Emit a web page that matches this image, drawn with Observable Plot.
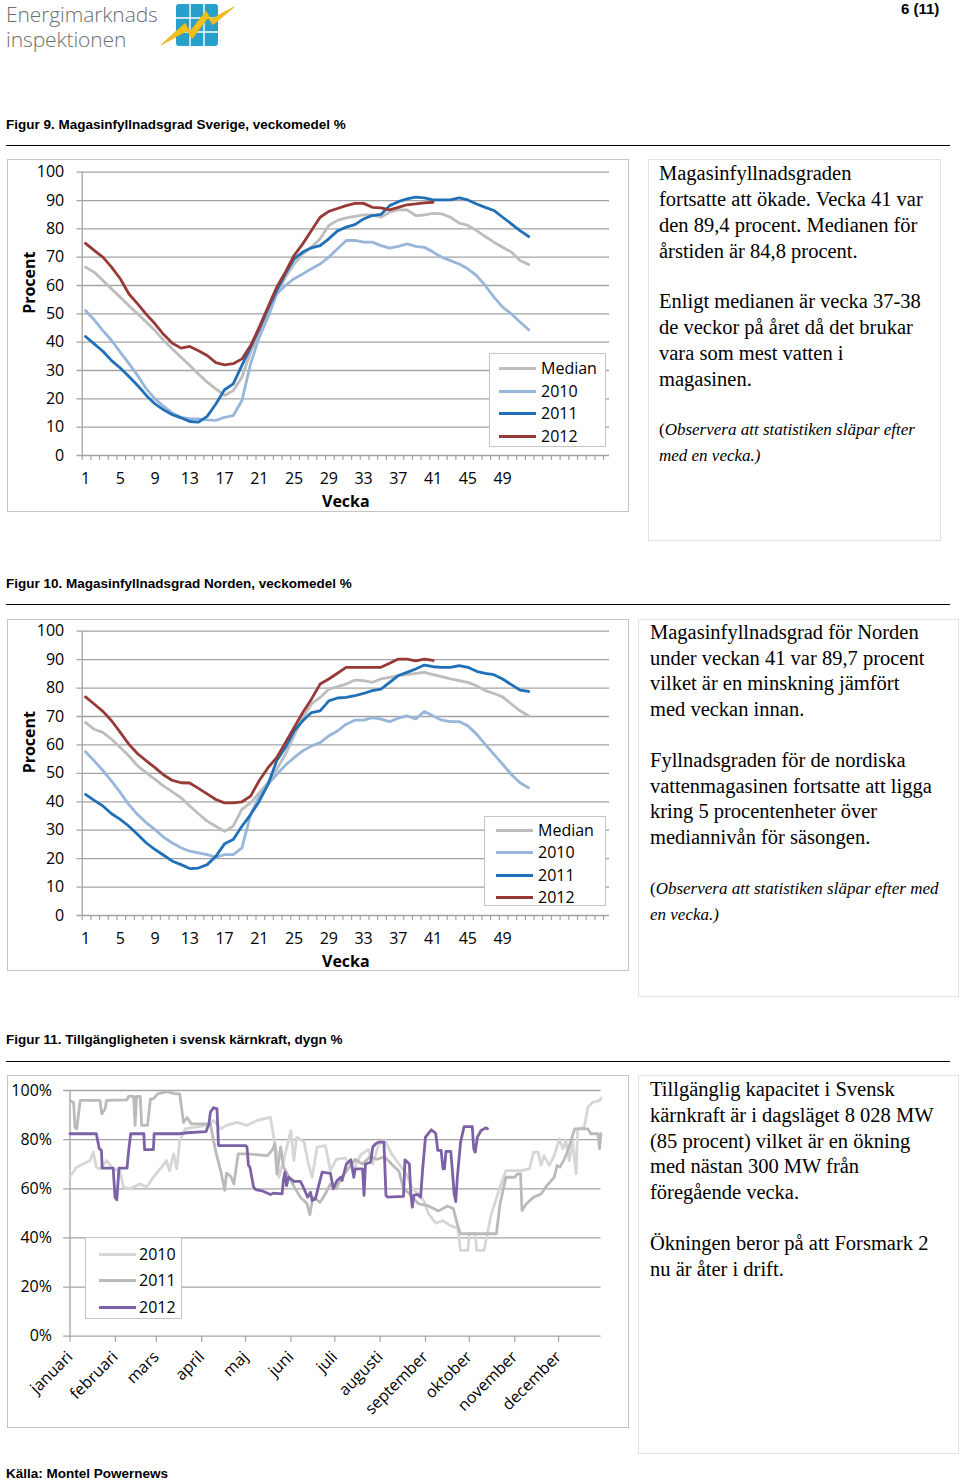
<!DOCTYPE html>
<html><head><meta charset="utf-8">
<script src="https://cdn.jsdelivr.net/npm/d3@7"></script>
<script src="https://cdn.jsdelivr.net/npm/@observablehq/plot@0.6"></script>
<style>
body{margin:0;background:#fff;}
#page{position:relative;width:960px;height:1481px;overflow:hidden;font-family:"Liberation Sans",Arial,sans-serif;color:#000;}
.abs{position:absolute;}
.logo{position:absolute;left:6px;font-family:'Open Sans',sans-serif;font-weight:300;font-size:21px;line-height:21px;height:21px;color:#6e6e6e;letter-spacing:-0.1px;white-space:nowrap;}
.figtitle{position:absolute;left:6px;font-weight:bold;font-size:13.5px;line-height:16px;white-space:nowrap;}
.hr{position:absolute;left:6px;width:944px;height:0;border-top:1.6px solid #000;}
.box{position:absolute;border:1.6px solid #c4c4c4;box-sizing:border-box;}
.tbox{position:absolute;border:1.2px solid #e2e2e2;box-sizing:border-box;}
.txt{position:absolute;font-family:"Liberation Serif","Times New Roman",serif;font-size:20.5px;white-space:nowrap;}
.it{font-style:italic;font-size:17px;}
.legend{position:absolute;background:#fff;border:1.2px solid #c4c4c4;box-sizing:border-box;font-family:"Open Sans",sans-serif;font-size:16px;}
.lrow{position:absolute;height:22px;line-height:22px;white-space:nowrap;}
.lline{position:absolute;height:3px;top:10px;width:37px;}
.ltext{position:absolute;top:0;}
.chart{position:absolute;}
</style></head>
<body><div id="page">

<div class="logo" style="top:4px;">Energimarknads</div>
<div class="logo" style="top:29px;">inspektionen</div>
<svg class="abs" style="left:155px;top:0px" width="85" height="50" viewBox="155 0 85 50">
  <rect x="176" y="4" width="42" height="42" rx="3" fill="#27a0cc"/>
  <line x1="190" y1="4" x2="190" y2="46" stroke="#fff" stroke-width="1.4"/>
  <line x1="204" y1="4" x2="204" y2="46" stroke="#fff" stroke-width="1.4"/>
  <line x1="176" y1="18" x2="218" y2="18" stroke="#fff" stroke-width="1.4"/>
  <line x1="176" y1="32" x2="218" y2="32" stroke="#fff" stroke-width="1.4"/>
  <polygon points="161,45 185,23 190,31 206,11 211,19 234,7 213,25 208,18 192,39 187,31" fill="#f2c01c" stroke="#d9a400" stroke-width="0.6"/>
</svg>
<div class="abs" style="left:901px;top:0px;font-weight:bold;font-size:15px;line-height:17px;">6 (11)</div>

<div class="figtitle" style="top:117px;">Figur 9. Magasinfyllnadsgrad Sverige, veckomedel %</div>
<div class="hr" style="top:145px;"></div>
<div class="box" style="left:7px;top:159px;width:622px;height:353px;"></div>
<div id="fig9" class="chart" style="left:7px;top:159px;"></div>
<div class="tbox" style="left:648px;top:159px;width:293px;height:382px;"></div>
<div class="txt" style="left:659px;top:160px;line-height:26px;">Magasinfyllnadsgraden<br>fortsatte att ökade. Vecka 41 var<br>den 89,4 procent. Medianen för<br>årstiden är 84,8 procent.</div>
<div class="txt" style="left:659px;top:288px;line-height:26px;">Enligt medianen är vecka 37-38<br>de veckor på året då det brukar<br>vara som mest vatten i<br>magasinen.</div>
<div class="txt" style="left:659px;top:417px;line-height:26px;font-size:17px;">(<span class="it">Observera att statistiken släpar efter<br>med en vecka.)</span></div>

<div class="figtitle" style="top:576px;">Figur 10. Magasinfyllnadsgrad Norden, veckomedel %</div>
<div class="hr" style="top:604px;"></div>
<div class="box" style="left:7px;top:619px;width:622px;height:352px;"></div>
<div id="fig10" class="chart" style="left:7px;top:619px;"></div>
<div class="tbox" style="left:638px;top:619px;width:321px;height:378px;"></div>
<div class="txt" style="left:650px;top:620px;line-height:25.7px;">Magasinfyllnadsgrad för Norden<br>under veckan 41 var 89,7 procent<br>vilket är en minskning jämfört<br>med veckan innan.</div>
<div class="txt" style="left:650px;top:748px;line-height:25.7px;">Fyllnadsgraden för de nordiska<br>vattenmagasinen fortsatte att ligga<br>kring 5 procentenheter över<br>mediannivån för säsongen.</div>
<div class="txt" style="left:650px;top:876px;line-height:25.5px;font-size:17px;">(<span class="it">Observera att statistiken släpar efter med<br>en vecka.)</span></div>

<div class="figtitle" style="top:1032px;">Figur 11. Tillgängligheten i svensk kärnkraft, dygn %</div>
<div class="hr" style="top:1061px;"></div>
<div class="box" style="left:7px;top:1075px;width:622px;height:353px;"></div>
<div id="fig11" class="chart" style="left:7px;top:1075px;"></div>
<div class="tbox" style="left:638px;top:1075px;width:321px;height:379px;"></div>
<div class="txt" style="left:650px;top:1077px;line-height:25.75px;">Tillgänglig kapacitet i Svensk<br>kärnkraft är i dagsläget 8 028 MW<br>(85 procent) vilket är en ökning<br>med nästan 300 MW från<br>föregående vecka.</div>
<div class="txt" style="left:650px;top:1230px;line-height:26px;">Ökningen beror på att Forsmark 2<br>nu är åter i drift.</div>

<div class="figtitle" style="top:1466px;">Källa: Montel Powernews</div>

</div>
<script>
// ---------- Data: Figur 9 (Sverige), veckor 1-52 ----------
const weekSeries = ["Median", "2010", "2011", "2012"];
const weekColors = ["#bdbdbd", "#98b6da", "#1f70b8", "#973a37"];
const yTicks = [0, 10, 20, 30, 40, 50, 60, 70, 80, 90, 100];
const weekLabels = [1, 5, 9, 13, 17, 21, 25, 29, 33, 37, 41, 45, 49];

const sverigeMedian = [66.5,64.7,61.8,58.8,55.9,52.9,50,47,44.1,40.6,37.6,34.7,31.8,28.8,25.9,23.5,21.2,22.9,27.6,36.5,42.9,50,57,62.9,67.6,71.2,73.5,76.5,81.2,83,83.9,84.4,84.9,84.9,84.1,85.9,86.7,86.7,84.7,84.9,85.5,85.3,84.1,82,81.2,79.4,77.3,75.3,73.5,71.8,68.8,67.4];
const sverige2010 = [51.2,47.9,44.1,40.6,36.5,32.4,28.2,23.5,20,17.3,15,13.5,12.9,12.9,12.6,12.4,13.5,14.1,19.4,32.4,41.8,48.8,57,60,62.4,64.1,65.9,67.6,70,73,75.9,75.9,75.3,75.3,74.1,73.2,73.8,74.7,73.8,73.5,71.8,70,68.8,67.6,65.9,63.5,60,55.9,52.4,50,47.1,44.4];
const sverige2011 = [42,39.4,36.8,33.5,30.9,27.9,24.7,21.2,18.2,16.1,14.4,13.3,12,11.8,13.8,18.2,23.2,25.3,31.8,38.2,44.7,51.8,58.2,64.1,69.4,71.8,73.3,74.1,76.5,79.3,80.6,81.5,83.5,84.7,85.1,88.2,89.6,90.6,91.2,90.9,90.2,90.2,90.2,90.9,90.2,88.8,87.6,86.5,84.1,81.8,79.4,77.3];
const sverige2012 = [74.9,72.4,70,66.5,62.4,57,53.5,49.8,46.5,42.7,39.6,37.9,38.5,37,35.3,32.8,32,32.4,34.1,38.8,45.3,52.4,59.4,64.7,70.6,74.7,79.4,84.1,86.2,87.2,88.2,89,89,87.6,87.4,86.7,87.6,88.5,88.8,89.2,89.4];

// ---------- Data: Figur 10 (Norden) ----------
const nordenMedian = [67.9,65.5,64.4,62,59.1,56.1,52.6,50.2,47.9,45.5,43.5,41.4,38.5,35.8,33.2,31.4,29.6,31.4,37.3,39.6,43.2,46.7,51.4,56.7,63.2,69.6,74.4,76.7,79.6,80.5,81.4,82.8,82.6,82,83.2,83.8,84.4,84.7,85.2,85.5,84.7,84,83.2,82.6,82,80.8,79.1,78.1,76.9,74.4,72,70.2];
const norden2010 = [57.6,54.4,51,47.3,43.2,39,35.5,32.6,30.2,27.5,25.5,23.8,22.6,22,21.4,20.5,21.4,21.4,23.8,35.5,42,46.1,49.6,52.9,55.5,57.9,59.6,60.8,63.2,64.9,67.3,68.7,68.7,69.6,69.1,68.2,69.4,70.2,69.1,71.8,70.2,68.7,68.2,68.2,66.7,63.8,60.2,56.7,53.2,49.6,46.7,44.9];
const norden2011 = [42.6,40.5,38.5,35.8,33.8,31.4,28.5,25.5,23.2,21.2,19.1,17.9,16.5,16.7,17.9,20.8,25.2,26.7,31.4,35.5,40.2,46.1,54.4,59.1,64.9,68.5,71.4,72,75.5,76.5,76.7,77.3,78.1,79.1,79.6,82,84.4,85.5,86.7,88.1,87.5,87.3,87.3,87.9,87.3,85.9,85.2,84.7,83.2,81.2,79.3,78.8];
const norden2012 = [76.9,74.4,71.8,68.5,64.4,60.2,56.9,54.4,52,49.4,47.5,46.7,46.6,44.7,42.8,40.8,39.6,39.6,40,42,47.5,52,55.5,60.8,66.1,71.4,76.1,81.4,83.2,85.2,87.3,87.3,87.3,87.3,87.3,88.7,90.2,90.2,89.6,90.2,89.7];

// ---------- Data: Figur 11 (kärnkraft), [dag i året, procent] ----------
const monthNames = ["januari","februari","mars","april","maj","juni","juli","augusti","september","oktober","november","december"];
const pctTicks = [0, 20, 40, 60, 80, 100];
const availSeries = ["2010", "2011", "2012"];
const availColors = ["#d6d6d6", "#bababa", "#7d61a6"];
const avail2010 = [[0,65],[4.6,68.8],[9,70.1],[13.7,71.5],[16,74.9],[18,68.8],[20.5,68.1],[25,71.5],[29.7,68.1],[34,67.4],[36.5,60.7],[41,60],[48,62],[52.5,60.7],[57,64.7],[61.6,68.1],[66,71.5],[68,67.4],[70.8,74.2],[73,68.1],[75,79.6],[78.8,84.4],[84.5,85],[93.6,85.8],[98,87.8],[103,84.4],[107,85.8],[114,87],[121,85.8],[128,87.8],[137,89.1],[139,82],[141,75.6],[142.7,64.7],[146,71.5],[151,83.7],[153,71.5],[155,81],[160,79],[163,70.1],[165.5,64.7],[169,77],[174.6,77.6],[178,67.4],[182,72],[188,72.6],[194,68],[199,74],[204,76],[207,70],[211,78],[215,80],[220,74],[225,70],[230,66],[234,60],[238,58],[242,55],[245,50],[250,46],[255,47],[260,45],[265,44],[267,34.9],[272,34.9],[273,41.7],[277,41.7],[278,34.9],[283,34.9],[288,49.8],[294,60.7],[298,67.4],[308,67.4],[314,68.1],[317,74.9],[320,74.9],[322,69.5],[324,73.5],[327.6,69.5],[331,73.5],[334.5,80.3],[337,76.3],[339,79.6],[341.3,71.5],[343.6,79],[346,66.1],[347,84.4],[351.6,85.1],[354,93.2],[357.5,95.3],[362,95.9],[363,97]];
const avail2011 = [[0,96],[2.5,95],[3.4,85],[4.6,84.4],[7,96],[20.5,96],[21.7,90.5],[24,92.5],[25,96],[39,96.2],[40,97.6],[43.5,97.6],[44.5,85.8],[45.5,97.6],[48,97.6],[49,85.8],[53,85.8],[55,96.6],[57,96.6],[60,98.6],[66,99.5],[72,98.6],[75,98.6],[77.6,87],[80,89],[83,86.4],[96,86.4],[98,80],[100,74.2],[103,67.4],[105.7,59.4],[107,66.4],[110,65],[112,62],[115,74.2],[121,74.2],[135,73.5],[138,75.6],[140,78.3],[141.5,66],[144,77],[146,68.8],[151,63.4],[154,60],[157.5,56.6],[162,54],[164,49.5],[166,56.6],[171,54.5],[174.6,58],[178,62],[182,60],[185,64],[190,68],[195,72],[200,70],[205,73],[210,72],[215,73],[220,70],[225,67],[228,60],[232,58],[238,54],[245,53],[252,51],[258,53],[262,52],[265,45],[267,41.7],[291.5,41.7],[294,53.9],[298,64.7],[304,64.7],[306,66.1],[308,66.1],[309,51.2],[312,53.9],[317,56.6],[322,57.9],[326,61.3],[331,64.7],[333,69.5],[335,68.8],[338,72.2],[340,74.9],[342.5,79.6],[345,84.4],[354,84.4],[356,82.4],[361,82.4],[362,76.3],[363,82.4]];
const avail2012 = [[0,82.4],[18,82.4],[20,76.3],[21.5,75.6],[22,68.4],[29.5,68.4],[30.8,56.6],[32,55.5],[33.5,68.4],[39,68.4],[40,74.9],[41.5,82.4],[50.5,82.4],[51,75.9],[57,75.9],[57.5,82.4],[75,82.4],[80,82.8],[93,83.3],[95,86.4],[96,91.2],[98,93],[100.5,92.5],[101.5,77.6],[120,77.6],[121,77],[122,69.5],[123,68.8],[125.5,60.7],[127,59.7],[132,59],[137,57.7],[139,58.2],[145,57.9],[146,64],[147,66.8],[148,61.3],[149.5,64.7],[153,63],[157.5,63],[159,61.3],[161,58.6],[162.5,56.6],[164.4,58.6],[165.5,55.2],[167.8,55.9],[170,61.3],[172.4,66.8],[178,66.3],[179,63.4],[180,60],[182.6,63.4],[185,64.7],[186,63.4],[189,70.1],[192,71.8],[194,64.7],[195,68.1],[200,68.1],[201,57.3],[202,70.1],[205.5,70.8],[207,77],[209,78.3],[211,79],[214.6,79],[216,57.3],[217,56.6],[228,56.9],[229,71.8],[232,70.1],[233,58],[234,52.5],[235,57.3],[237.4,57.7],[239.7,56.6],[241,67.4],[243,81],[247,84],[250,82.6],[251.4,75.6],[253.7,75.6],[255,68.1],[256,68.1],[257,75.2],[260.3,75.2],[261.4,67.4],[262.6,58],[263.7,54.8],[264.8,64.7],[267,79],[269.4,85.3],[275,85.3],[276,76.3],[277,74.9],[278.5,81],[281,83.7],[284.2,84.8],[285.4,84.4]];

// ---------- Drawing ----------
const GRID = "#a3a3a3";
const W = 621, H = 352;
const FONT = {fontFamily: "'Open Sans', sans-serif", fontSize: "16px", color: "#000", background: "transparent", overflow: "visible"};

function weekChart(values, m) {
  const data = [];
  weekSeries.forEach((s, k) => values[k].forEach((v, i) => data.push({serie: s, week: i + 1, value: v})));
  const x0 = 0.62, x1 = 61.3;
  const bounds = d3.range(0, 61).map(k => x0 + k);
  return Plot.plot({
    width: W, height: H,
    marginLeft: 74.7, marginRight: 19, marginTop: m.top, marginBottom: m.bottom,
    style: FONT,
    x: {domain: [x0, x1], label: null},
    y: {domain: [0, 100], label: null},
    color: {domain: weekSeries, range: weekColors},
    marks: [
      Plot.ruleY(yTicks, {x1: x0 - 0.6, x2: x1, stroke: GRID, strokeWidth: 1.3}),
      Plot.ruleX([x0], {y1: 0, y2: 100, stroke: GRID, strokeWidth: 1.3}),
      Plot.axisY({ticks: yTicks, tickSize: 0, tickPadding: 18, fill: "#000", label: null}),
      Plot.axisX({ticks: bounds, tickSize: 5, tickFormat: () => "", stroke: GRID, strokeWidth: 1.2, label: null}),
      Plot.axisX({ticks: weekLabels, tickSize: 0, tickPadding: 17, fill: "#000", label: null}),
      Plot.line(data, {x: "week", y: "value", z: "serie", stroke: "serie", strokeWidth: 2.8, strokeLinejoin: "round"}),
      Plot.text(["Vecka"], {frameAnchor: "bottom", dy: 51, fontWeight: "bold", fontSize: 16}),
      Plot.text(["Procent"], {frameAnchor: "left", rotate: -90, dx: -52, fontWeight: "bold", fontSize: 16})
    ]
  });
}

function legend(el, names, colors, box) {
  const div = document.createElement("div");
  div.className = "legend";
  Object.assign(div.style, {left: box.left + "px", top: box.top + "px", width: box.width + "px", height: box.height + "px"});
  names.forEach((n, i) => {
    const row = document.createElement("div");
    row.className = "lrow";
    row.style.top = (box.rows[i] - 11) + "px";
    row.style.left = "0px";
    row.innerHTML = `<span class="lline" style="left:${box.line}px;background:${colors[i]}"></span><span class="ltext" style="left:${box.text}px">${n}</span>`;
    div.appendChild(row);
  });
  document.getElementById("page").appendChild(div);
}

document.getElementById("fig9").appendChild(weekChart([sverigeMedian, sverige2010, sverige2011, sverige2012], {top: 12.7, bottom: 56}));
document.getElementById("fig10").appendChild(weekChart([nordenMedian, norden2010, norden2011, norden2012], {top: 11.7, bottom: 56}));
legend("fig9", weekSeries, weekColors, {left: 489, top: 353, width: 117, height: 94, rows: [14, 37, 59, 82], line: 9, text: 51});
legend("fig10", weekSeries, weekColors, {left: 484, top: 816, width: 122, height: 90, rows: [12.5, 35, 57.5, 79.5], line: 11, text: 53});

// Figur 11
const base = Date.UTC(2001, 0, 1);
const day = d => new Date(base + d * 864e5);
const availData = [];
[avail2010, avail2011, avail2012].forEach((arr, k) => arr.forEach(([d, v]) => availData.push({serie: availSeries[k], date: day(d), value: v})));
const monthStarts = monthNames.map((m, i) => new Date(Date.UTC(2001, i, 1)));
const fig11 = Plot.plot({
  width: W, height: H,
  marginLeft: 62.5, marginRight: 27.5, marginTop: 15, marginBottom: 91.3,
  style: FONT,
  x: {type: "utc", domain: [day(0), day(363)], label: null},
  y: {domain: [0, 100], label: null},
  color: {domain: availSeries, range: availColors},
  marks: [
    Plot.ruleY(pctTicks, {x1: day(-4.3), x2: day(363), stroke: GRID, strokeWidth: 1.3}),
    Plot.ruleX([day(0)], {y1: 0, y2: 100, stroke: GRID, strokeWidth: 1.3}),
    Plot.axisY({ticks: pctTicks, tickSize: 0, tickPadding: 18, tickFormat: d => d + "%", fill: "#000", label: null}),
    Plot.axisX({ticks: monthStarts, tickSize: 6, tickPadding: 12, tickRotate: -45, stroke: GRID, strokeWidth: 1.2, fill: "#000", label: null, tickFormat: d => monthNames[d.getUTCMonth()]}),
    Plot.line(availData, {x: "date", y: "value", z: "serie", stroke: "serie", strokeWidth: 2.8, strokeLinejoin: "round"})
  ]
});
document.getElementById("fig11").appendChild(fig11);
legend("fig11", availSeries, availColors, {left: 85, top: 1237, width: 97, height: 82, rows: [15.7, 42.3, 69], line: 13, text: 53});
</script>
</body></html>
